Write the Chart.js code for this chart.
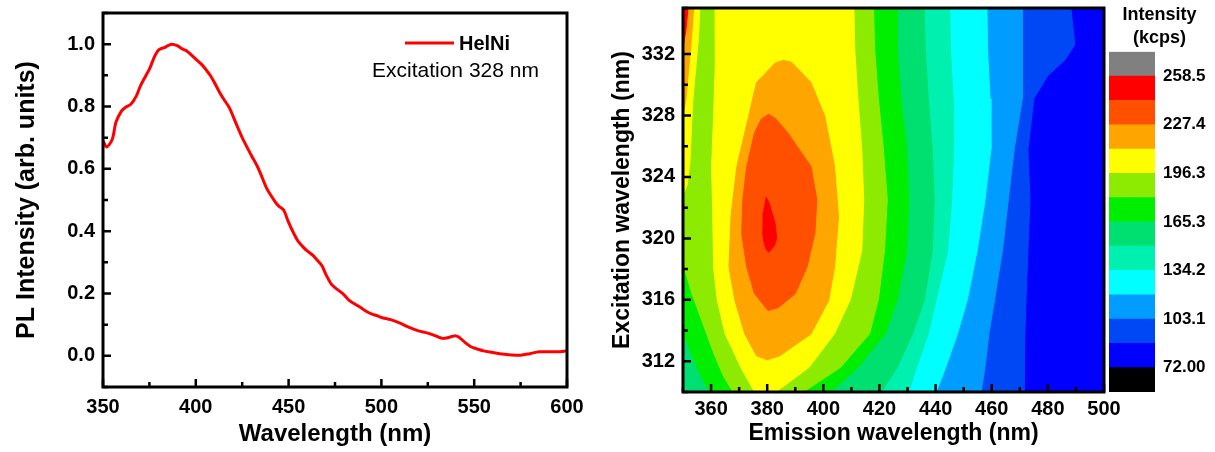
<!DOCTYPE html>
<html>
<head>
<meta charset="utf-8">
<script src="https://cdn.jsdelivr.net/npm/chart.js@4.4.1/dist/chart.umd.min.js"></script>
<style>
  body { margin: 0; background: #fff; }
  .box { position: absolute; top: 0; }
</style>
</head>
<body>
<div class="box" style="left:0"><canvas id="plChart" width="600" height="452"></canvas></div>
<div class="box" style="left:600px"><canvas id="mapChart" width="530" height="452"></canvas></div>
<div class="box" style="left:1100px"><canvas id="barChart" width="110" height="452"></canvas></div>
<script>
// PL spectrum (left panel)
const wavelength = [350, 352, 355, 357, 360, 362, 365, 368, 370, 373, 375, 378, 380, 383, 385, 387, 390, 393, 395, 398,
  400, 403, 405, 408, 410, 413, 415, 418, 420, 423, 425, 428, 430, 433, 435, 438, 440, 443, 445, 447,
  448, 450, 453, 455, 458, 460, 463, 465, 468, 470, 473, 475, 478, 480, 483, 485, 488, 490, 493, 495,
  498, 500, 505, 510, 515, 520, 525, 530, 533, 535, 538, 540, 542, 545, 548, 550, 555, 560, 565, 570,
  575, 580, 585, 590, 595, 600];
const intensity = [0.69, 0.67, 0.695, 0.75, 0.786, 0.797, 0.807, 0.834, 0.864, 0.898, 0.92, 0.963, 0.982, 0.989, 0.995, 1.0, 0.995, 0.984, 0.979, 0.963,
  0.952, 0.936, 0.922, 0.898, 0.877, 0.843, 0.824, 0.797, 0.77, 0.727, 0.70, 0.665, 0.642, 0.61, 0.583, 0.54, 0.519, 0.492, 0.479, 0.47,
  0.46, 0.428, 0.39, 0.369, 0.348, 0.337, 0.323, 0.31, 0.289, 0.262, 0.23, 0.219, 0.205, 0.195, 0.176, 0.169, 0.158, 0.15, 0.139, 0.134,
  0.128, 0.123, 0.116, 0.105, 0.091, 0.08, 0.073, 0.062, 0.056, 0.057, 0.062, 0.064, 0.059, 0.043, 0.03, 0.025, 0.016, 0.011, 0.006, 0.003,
  0.002, 0.007, 0.013, 0.013, 0.013, 0.016];
const sampleName = "HelNi";
const excitationNote = "Excitation 328 nm";

// colour scale of the map (kcps)
const bandEdges = [56.46, 72.00, 87.55, 103.1, 118.65, 134.2, 149.75, 165.3, 180.8, 196.3, 211.85, 227.4, 242.95, 258.5, 274.05];
const cbarTicks = [72.00, 103.1, 134.2, 165.3, 196.3, 227.4, 258.5];
const cbarTickLabels = ["72.00", "103.1", "134.2", "165.3", "196.3", "227.4", "258.5"];

// contour outlines, [emission nm, excitation nm]
const region072 = [[345, 336], [505, 336], [505, 309], [345, 309]];
const edge087 = [[488.2, 336], [488.2, 335], [489.6, 332.6], [486, 331.6], [480, 330.6], [475, 329.1], [472.9, 325.8], [473.6, 322.5], [472.9, 319.2], [472.2, 316.0], [471.8, 313.8], [471.5, 311.6], [471.5, 309]];
const edge103 = [[470.8, 336], [470.8, 335], [471.1, 332.3], [470.8, 329.1], [468.0, 325.8], [465.9, 322.5], [463.8, 319.2], [461.0, 316.0], [459.0, 313.8], [457.6, 311.6], [456.2, 310], [456, 309]];
const edge118 = [[458.3, 336], [458.3, 335], [458.5, 332.3], [459.4, 329.1], [459.7, 325.8], [457.6, 322.5], [454.8, 319.2], [451.3, 316.0], [447.8, 313.8], [443.6, 311.6], [440.2, 310], [439.8, 309]];
const edge134 = [[445.0, 336], [445.0, 335], [445.3, 332.3], [446.2, 329.1], [446.4, 325.8], [445.7, 322.5], [444.3, 319.2], [440.2, 316.0], [437.4, 313.8], [433.2, 311.6], [430.4, 310], [430, 309]];
const edge149 = [[436.0, 336], [436.0, 335], [436.3, 332.3], [437.4, 329.1], [438.8, 325.8], [439.5, 322.5], [438.8, 319.2], [436.0, 316.0], [431.8, 313.8], [426.3, 311.6], [420.7, 310], [420.2, 309]];
const edge165 = [[426.3, 336], [426.3, 335], [426.5, 332.3], [427.6, 329.1], [429.7, 325.8], [430.4, 322.5], [429.7, 319.2], [426.3, 316.0], [422.1, 313.8], [412.3, 311.6], [402.6, 310], [402, 309]];
const edge180 = [[417.9, 336], [417.9, 335], [418.3, 332.3], [419.6, 329.1], [421.4, 325.8], [422.8, 322.5], [421.8, 319.2], [419.6, 316.0], [416.5, 313.8], [406.1, 311.6], [392.9, 310], [392, 309]];
const edge196 = [[410.9, 336], [410.9, 335], [411.2, 332.3], [412.3, 329.1], [413.7, 325.8], [414.4, 322.5], [413.7, 319.2], [409.6, 316.0], [404.0, 313.8], [394.9, 311.6], [383.1, 310], [382.5, 309]];
const leftAll = [[345, 309], [345, 336]];
const left149 = [[352, 309], [351.5, 310], [350, 310.8], [345, 311], [345, 336]];
const left165 = [[359.3, 309], [359.5, 310], [356.5, 311], [353, 312.5], [350, 313.8], [345, 314], [345, 336]];
const left180 = [[367.5, 309], [367.8, 310], [364.5, 311], [361, 312.5], [357, 314.5], [353, 316.5], [350, 318.4], [345, 318.6], [345, 336]];
const left196 = [[375.5, 309], [375.5, 310], [370.6, 311.6], [365, 313.8], [362.2, 316], [360.9, 318.1], [360.6, 321.4], [360.2, 324.7], [360.9, 328], [361.5, 331.3], [361.4, 336]];
const strip196 = [[345, 336], [356, 336], [356, 335], [355.5, 333], [354.5, 331], [353.5, 329], [353, 327], [352.5, 325], [351.5, 323.5], [350, 322.8], [345, 322.8]];
const strip212 = [[345, 336], [354, 336], [353.8, 335], [353, 333], [352, 331], [351, 329], [350, 328], [345, 328]];
const strip243 = [[345, 336], [352, 336], [351.8, 335], [351, 333.5], [350, 332.5], [345, 332.5]];
const blob212 = [[385.5, 331.6], [388.7, 331.46], [395.6, 330.15], [400.5, 327.97], [404, 324.69], [405.4, 321.42], [404, 318.14], [401.9, 315.96], [395.6, 313.78], [384.5, 312.36], [380, 312.1], [376.2, 312.36], [372, 313.78], [368.5, 315.96], [366.4, 318.14], [367.1, 321.42], [369.2, 324.69], [373.4, 327.97], [376.2, 330.15], [383.1, 331.46]];
const blob227 = [[380.3, 328.1], [383, 327.8], [387.3, 326.88], [395.6, 324.69], [397.7, 322.51], [397, 320.33], [394.2, 318.14], [390, 316.4], [384, 315.5], [380.3, 315.3], [375.5, 316.4], [372.7, 318.14], [370.9, 320.33], [371.3, 322.51], [372.7, 324.69], [375.5, 326.88], [378, 327.8]];
const blob243 = [[379.5, 322.7], [380.5, 322.4], [381.5, 321.8], [382.8, 321], [383.4, 320], [382.5, 319.5], [380.5, 319.1], [379.6, 319.3], [378.8, 319.8], [378.3, 320.5], [378.5, 321.7]];

const bandColors = ["#000000", "#0000FF", "#0048F5", "#009CFF", "#00FFFF", "#00F0B0", "#00E070", "#00EE00", "#8CEB00", "#FFFF00", "#FFA500", "#FF5000", "#FF0000", "#808080"];

const mapShapes = [
  [72.00, region072],
  [87.55, edge087.concat(leftAll)],
  [103.1, edge103.concat(leftAll)],
  [118.65, edge118.concat(leftAll)],
  [134.2, edge134.concat(leftAll)],
  [149.75, edge149.concat(left149)],
  [165.3, edge165.concat(left165)],
  [180.8, edge180.concat(left180)],
  [196.3, edge196.concat(left196)],
  [196.3, strip196],
  [211.85, blob212],
  [211.85, strip212],
  [227.4, blob227],
  [242.95, blob243],
  [242.95, strip243]
];

const FONT = '"Liberation Sans", Arial, sans-serif';
Chart.defaults.font.family = FONT;
Chart.defaults.color = "#000";
Chart.defaults.animation = false;

// box round the plot plus inward ticks
const frameTicks = {
  id: "frameTicks",
  afterDatasetsDraw(chart) {
    const { ctx, chartArea: a, scales } = chart;
    ctx.save();
    ctx.strokeStyle = "#000";
    ctx.lineWidth = 2.5;
    ctx.beginPath();
    scales.x.ticks.forEach((t) => {
      const px = scales.x.getPixelForValue(t.value);
      const len = t.label !== "" ? 8 : 5;
      ctx.moveTo(px, a.bottom);
      ctx.lineTo(px, a.bottom - len);
    });
    scales.y.ticks.forEach((t) => {
      const py = scales.y.getPixelForValue(t.value);
      const len = t.label !== "" ? 8 : 5;
      ctx.moveTo(a.left, py);
      ctx.lineTo(a.left + len, py);
    });
    ctx.stroke();
    ctx.lineWidth = 3;
    ctx.strokeRect(a.left, a.top, a.right - a.left, a.bottom - a.top);
    ctx.restore();
  }
};

const plLegend = {
  id: "plLegend",
  afterDraw(chart) {
    const { ctx, chartArea: a } = chart;
    const ds = chart.data.datasets[0];
    ctx.save();
    ctx.strokeStyle = ds.borderColor;
    ctx.lineWidth = 3;
    ctx.beginPath();
    ctx.moveTo(a.left + 302, a.top + 30);
    ctx.lineTo(a.left + 351, a.top + 30);
    ctx.stroke();
    ctx.fillStyle = "#000";
    ctx.textBaseline = "middle";
    ctx.font = "bold 20px " + FONT;
    ctx.fillText(ds.label, a.left + 356, a.top + 31);
    ctx.font = "21px " + FONT;
    ctx.fillText(excitationNote, a.left + 269, a.top + 58);
    ctx.restore();
  }
};

const tickFont = { size: 20, weight: "bold" };
const noGrid = { display: false, drawTicks: false };
const fitX = (h) => (s) => { s.height = h; s.paddingLeft = 0; s.paddingRight = 0; };
const fitY = (w) => (s) => { s.width = w; s.paddingTop = 0; s.paddingBottom = 0; };

new Chart(document.getElementById("plChart"), {
  type: "line",
  data: {
    datasets: [{
      label: sampleName,
      data: wavelength.map((w, i) => ({ x: w, y: intensity[i] })),
      borderColor: "#FF0000",
      borderWidth: 3,
      pointRadius: 0,
      tension: 0.3,
      fill: false
    }]
  },
  options: {
    responsive: false,
    devicePixelRatio: 1,
    layout: { padding: { left: 0, top: 13, right: 33, bottom: 0 } },
    plugins: { legend: { display: false }, tooltip: { enabled: false } },
    scales: {
      x: {
        type: "linear", min: 350, max: 600,
        grid: noGrid, border: { display: false },
        ticks: { stepSize: 25, padding: 8, font: tickFont, autoSkip: false, maxRotation: 0,
          callback: (v) => (v % 50 === 0 ? v : "") },
        title: { display: true, text: "Wavelength (nm)", font: { size: 24, weight: "bold" }, padding: { top: 0, bottom: 3 } },
        afterFit: fitX(65)
      },
      y: {
        type: "linear", min: -0.1, max: 1.1,
        grid: noGrid, border: { display: false },
        ticks: { stepSize: 0.1, padding: 8, font: tickFont, autoSkip: false,
          callback: (v) => {
            const k = Math.round(v * 10);
            return k >= 0 && k <= 10 && k % 2 === 0 ? (k / 10).toFixed(1) : "";
          } },
        title: { display: true, text: "PL Intensity (arb. units)", font: { size: 25, weight: "bold" }, padding: { top: 12, bottom: 0 } },
        afterFit: fitY(103)
      }
    }
  },
  plugins: [frameTicks, plLegend]
});

const colorFor = (lvl) => bandColors[bandEdges.indexOf(lvl)];

new Chart(document.getElementById("mapChart"), {
  type: "line",
  data: {
    datasets: mapShapes.map(([lvl, pts], i) => ({
      data: pts.map((p) => ({ x: p[0], y: p[1] })),
      backgroundColor: colorFor(lvl),
      borderColor: colorFor(lvl),
      borderWidth: 1,
      pointRadius: 0,
      tension: 0,
      fill: "shape",
      order: mapShapes.length - i
    }))
  },
  options: {
    responsive: false,
    devicePixelRatio: 1,
    layout: { padding: { left: 0, top: 8, right: 26, bottom: 0 } },
    plugins: { legend: { display: false }, tooltip: { enabled: false } },
    scales: {
      x: {
        type: "linear", min: 350, max: 500,
        grid: noGrid, border: { display: false },
        ticks: { stepSize: 10, padding: 5, font: tickFont, autoSkip: false, maxRotation: 0,
          callback: (v) => (v % 20 === 0 ? v : "") },
        title: { display: true, text: "Emission wavelength (nm)", font: { size: 23, weight: "bold" }, padding: { top: 0, bottom: 5 } },
        afterFit: fitX(60)
      },
      y: {
        type: "linear", min: 310, max: 335,
        grid: noGrid, border: { display: false },
        ticks: { stepSize: 2, padding: 8, font: tickFont, autoSkip: false,
          callback: (v) => (v % 4 === 0 && v >= 312 ? v : "") },
        title: { display: true, text: "Excitation wavelength (nm)", font: { size: 23, weight: "bold" }, padding: { top: 9, bottom: 0 } },
        afterFit: fitY(83)
      }
    }
  },
  plugins: [frameTicks]
});

new Chart(document.getElementById("barChart"), {
  type: "bar",
  data: {
    labels: [""],
    datasets: bandColors.map((c, i) => ({
      data: [[bandEdges[i], bandEdges[i + 1]]],
      backgroundColor: c,
      borderWidth: 0,
      grouped: false,
      barPercentage: 1,
      categoryPercentage: 1
    }))
  },
  options: {
    responsive: false,
    devicePixelRatio: 1,
    layout: { padding: { left: 9, top: 0, right: 0, bottom: 60 } },
    plugins: {
      legend: { display: false },
      tooltip: { enabled: false },
      title: {
        display: true,
        text: ["Intensity", "(kcps)"],
        font: { size: 18, weight: "bold", lineHeight: 1.3 },
        padding: { top: 3, bottom: 2 },
        color: "#000"
      }
    },
    scales: {
      x: { display: false },
      y: {
        position: "right",
        min: bandEdges[0], max: bandEdges[bandEdges.length - 1],
        grid: noGrid, border: { display: false },
        afterBuildTicks: (s) => { s.ticks = cbarTicks.map((v) => ({ value: v })); },
        ticks: { padding: 8, autoSkip: false, font: { size: 17, weight: "bold" },
          callback: (v, i) => cbarTickLabels[i] },
        afterFit: fitY(55)
      }
    }
  }
});
</script>
</body>
</html>
